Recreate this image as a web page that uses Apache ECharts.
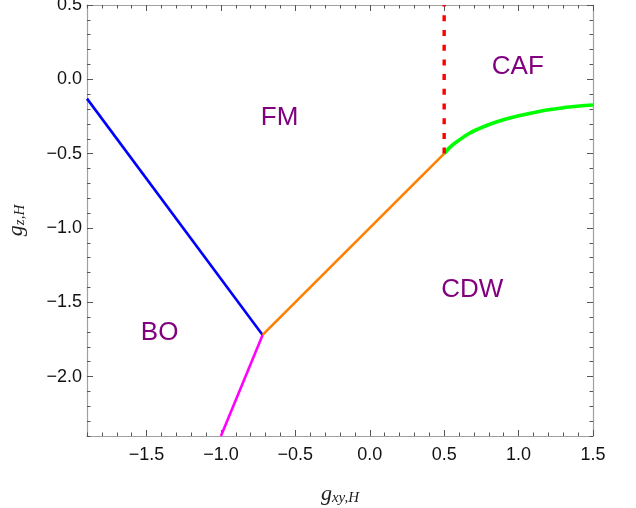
<!DOCTYPE html>
<html>
<head>
<meta charset="utf-8">
<script src="https://cdn.jsdelivr.net/npm/echarts@6/dist/echarts.min.js"></script>
<style>
html,body{margin:0;padding:0;background:#fff;}
#c{width:636px;height:508px;}
</style>
</head>
<body>
<div id="c"></div>
<script>
// ---- data ----
const xRange = [-1.9, 1.5];
const yRange = [-2.4, 0.5];
const xMajorTicks = [-1.5, -1.0, -0.5, 0.0, 0.5, 1.0, 1.5];
const yMajorTicks = [-2.0, -1.5, -1.0, -0.5, 0.0, 0.5];

const blueX = [-1.9, -0.72];
const blueY = [-0.13, -1.72];
const magentaX = [-0.72, -1.0];
const magentaY = [-1.72, -2.4];
const orangeX = [-0.72, 0.5];
const orangeY = [-1.72, -0.5];
const greenX = [0.5, 0.54, 0.58, 0.67, 0.76, 0.85, 0.96, 1.08, 1.19, 1.30, 1.41, 1.5];
const greenY = [-0.5, -0.456, -0.424, -0.363, -0.321, -0.287, -0.256, -0.229, -0.207, -0.191, -0.180, -0.173];
const redX = [0.5, 0.5];
const redY = [-0.5, 0.5];

const phaseNames = ['FM', 'CAF', 'CDW', 'BO'];
const phaseX = [-0.606, 0.995, 0.689, -1.412];
const phaseY = [-0.259, 0.086, -1.415, -1.708];

// ---- helpers ----
function pairs(xs, ys) { return xs.map((x, i) => [x, ys[i]]); }
function minors(range, majors) {
  const out = [];
  for (let k = Math.ceil(range[0] * 10 - 1e-9); k <= Math.floor(range[1] * 10 + 1e-9); k++) {
    const v = k / 10;
    if (!majors.some(m => Math.abs(m - v) < 1e-9)) out.push(v);
  }
  return out;
}
const fmt = v => {
  const s = (Math.abs(v) < 1e-9 ? 0 : v).toFixed(1);
  return s.replace('-', '\u2212');
};
const xMinor = minors(xRange, xMajorTicks);
const yMinor = minors(yRange, yMajorTicks);

const frameColor = '#a0a0a0';
const tickColor = '#555';
const labelStyle = { color: '#111', fontSize: 18, fontFamily: 'Liberation Sans, Arial, sans-serif' };

function xAx(pos, ticks, len, showLine, showLabel, extra) {
  return Object.assign({
    type: 'value', position: pos, min: xRange[0], max: xRange[1],
    axisLine: { show: showLine, onZero: false, lineStyle: { color: frameColor, width: 1.2 } },
    axisTick: { show: true, inside: true, length: len, customValues: ticks, lineStyle: { color: tickColor, width: 1 } },
    axisLabel: showLabel ? Object.assign({ show: true, customValues: ticks, formatter: fmt, margin: 10, hideOverlap: false }, labelStyle) : { show: false },
    splitLine: { show: false }
  }, extra || {});
}
function yAx(pos, ticks, len, showLine, showLabel, extra) {
  return Object.assign({
    type: 'value', position: pos, min: yRange[0], max: yRange[1],
    axisLine: { show: showLine, onZero: false, lineStyle: { color: frameColor, width: 1.2 } },
    axisTick: { show: true, inside: true, length: len, customValues: ticks, lineStyle: { color: tickColor, width: 1 } },
    axisLabel: showLabel ? Object.assign({ show: true, customValues: ticks, formatter: fmt, margin: 5, hideOverlap: false }, labelStyle) : { show: false },
    splitLine: { show: false }
  }, extra || {});
}

const mathRich = {
  g: { fontFamily: 'Liberation Serif, DejaVu Serif, serif', fontStyle: 'italic', fontSize: 22, color: '#222' },
  s: { fontFamily: 'Liberation Serif, DejaVu Serif, serif', fontStyle: 'italic', fontSize: 15, color: '#222', padding: [9, 0, 0, 0] }
};

const chart = echarts.init(document.getElementById('c'), null, { renderer: 'canvas' });
chart.setOption({
  animation: false,
  backgroundColor: '#fff',
  grid: { left: 87, right: 43, top: 5, bottom: 72, containLabel: false, outerBoundsMode: 'none' },
  xAxis: [
    xAx('bottom', xMajorTicks, 6, true, true, {
      name: '{g|g}{s|xy,H}', nameLocation: 'middle', nameGap: 46,
      nameTextStyle: { rich: mathRich }
    }),
    xAx('bottom', xMinor, 3.5, false, false),
    xAx('top', xMajorTicks, 6, true, false),
    xAx('top', xMinor, 3.5, false, false)
  ],
  yAxis: [
    yAx('left', yMajorTicks, 6, true, true, {
      name: '{g|g}{s|z,H}', nameLocation: 'middle', nameGap: 59,
      nameTextStyle: { rich: mathRich }
    }),
    yAx('left', yMinor, 3.5, false, false),
    yAx('right', yMajorTicks, 6, true, false),
    yAx('right', yMinor, 3.5, false, false)
  ],
  series: [
    { type: 'line', data: pairs(blueX, blueY), showSymbol: false, lineStyle: { color: '#0000ff', width: 2.6 }, z: 3 },
    { type: 'line', data: pairs(magentaX, magentaY), showSymbol: false, lineStyle: { color: '#ff00ff', width: 2.6 }, z: 3 },
    { type: 'line', data: pairs(orangeX, orangeY), showSymbol: false, lineStyle: { color: '#ff8000', width: 2.6 }, z: 3 },
    { type: 'line', data: pairs(greenX, greenY), showSymbol: false, smooth: 0.3, lineStyle: { color: '#00ff00', width: 3.6 }, z: 4 },
    { type: 'line', data: pairs(redX, redY), showSymbol: false, lineStyle: { color: '#ff0000', width: 3.4, type: [6, 8.7] }, z: 4 },
    {
      type: 'scatter', symbolSize: 0,
      data: phaseNames.map((n, i) => ({ name: n, value: [phaseX[i], phaseY[i]] })),
      label: { show: true, position: 'inside', formatter: p => p.name, color: '#800080', opacity: 1, textBorderWidth: 0, fontSize: 26, fontFamily: 'Liberation Sans, Arial, sans-serif' },
      z: 5
    }
  ]
});
</script>
</body>
</html>
